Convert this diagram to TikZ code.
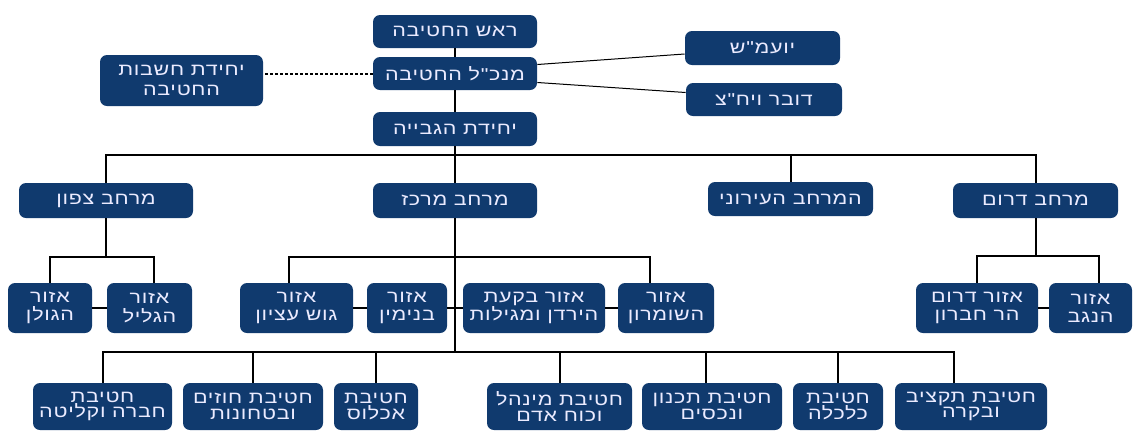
\documentclass[tikz,border=0pt]{standalone}
\usepackage{fontspec}
\newfontfamily\hebfont[Script=Hebrew,FakeStretch=1.25,LetterSpace=4]{Liberation Sans}
\TeXXeTstate=1
\definecolor{orgblue}{RGB}{16,58,110}
\newcommand{\hebtxt}[1]{\beginR #1\endR}
\tikzset{
  orgbox/.style={fill=orgblue, text=white!92!blue, rounded corners=3.5pt, inner sep=0pt, align=center, font=\hebfont\fontsize{8.6}{9.2}\selectfont},
  divbox/.style={orgbox, font=\hebfont\fontsize{8.6}{7.8}\selectfont},
  conn/.style={line width=1pt},
  thinconn/.style={line width=0.5pt}
}

\begin{document}
\begin{tikzpicture}[x=0.5pt, y=-0.5pt]
  \useasboundingbox (0,0) rectangle (1136,430);

  \node[orgbox, minimum width=82pt, minimum height=16.5pt] (1) at (455,31.5) {\hebtxt{ראש החטיבה}};
  \node[orgbox, minimum width=82pt, minimum height=16.5pt] (2) at (455,73.5) {\hebtxt{מנכ"ל החטיבה}};
  \node[orgbox, minimum width=82pt, minimum height=17pt] (3) at (455,129) {\hebtxt{יחידת הגבייה}};
  \node[orgbox, minimum width=81.5pt, minimum height=25.5pt] (4) at (181.5,80.5) {\hebtxt{יחידת חשבות}\\[1pt]\hebtxt{החטיבה}};
  \node[orgbox, minimum width=77.5pt, minimum height=17pt] (5) at (762.5,48) {\hebtxt{יועמ"ש}};
  \node[orgbox, minimum width=78pt, minimum height=16.5pt] (6) at (764,99.5) {\hebtxt{דובר ויח"צ}};

  \node[orgbox, minimum width=87pt, minimum height=17.5pt] (7) at (106,200.5) {\hebtxt{מרחב צפון}};
  \node[orgbox, minimum width=82pt, minimum height=17.5pt] (8) at (455,200.5) {\hebtxt{מרחב מרכז}};
  \node[orgbox, minimum width=82.5pt, minimum height=17pt] (9) at (790.5,199) {\hebtxt{המרחב העירוני}};
  \node[orgbox, minimum width=82.5pt, minimum height=17.5pt] (10) at (1035.5,200.5) {\hebtxt{מרחב דרום}};

  \node[orgbox, minimum width=42pt, minimum height=25pt] (11) at (50,308) {\hebtxt{אזור}\\\hebtxt{הגולן}};
  \node[orgbox, minimum width=42.5pt, minimum height=25pt] (12) at (149.5,308) {\hebtxt{אזור}\\\hebtxt{הגליל}};
  \node[orgbox, minimum width=56.5pt, minimum height=25pt] (13) at (296.5,308) {\hebtxt{אזור}\\\hebtxt{גוש עציון}};
  \node[orgbox, minimum width=40pt, minimum height=25pt] (14) at (407,308) {\hebtxt{אזור}\\\hebtxt{בנימין}};
  \node[orgbox, minimum width=71pt, minimum height=25pt] (15) at (534,308) {\hebtxt{אזור בקעת}\\\hebtxt{הירדן ומגילות}};
  \node[orgbox, minimum width=48pt, minimum height=25pt] (16) at (666,308) {\hebtxt{אזור}\\\hebtxt{השומרון}};
  \node[orgbox, minimum width=61pt, minimum height=25pt] (17) at (977,308) {\hebtxt{אזור דרום}\\\hebtxt{הר חברון}};
  \node[orgbox, minimum width=41.5pt, minimum height=25pt] (18) at (1090.5,308) {\hebtxt{אזור}\\\hebtxt{הנגב}};

  \node[divbox, minimum width=69.5pt, minimum height=23.5pt] (19) at (102.5,406.5) {\hebtxt{חטיבת}\\\hebtxt{חברה וקליטה}};
  \node[divbox, minimum width=70pt, minimum height=23.5pt] (20) at (253,406.5) {\hebtxt{חטיבת חוזים}\\\hebtxt{ובטחונות}};
  \node[divbox, minimum width=42pt, minimum height=23.5pt] (21) at (376,406.5) {\hebtxt{חטיבת}\\\hebtxt{אכלוס}};
  \node[divbox, minimum width=72.5pt, minimum height=23.5pt] (22) at (559.5,406.5) {\hebtxt{חטיבת מינהל}\\\hebtxt{וכוח אדם}};
  \node[divbox, minimum width=70pt, minimum height=23.5pt] (23) at (712,406.5) {\hebtxt{חטיבת תכנון}\\\hebtxt{ונכסים}};
  \node[divbox, minimum width=45pt, minimum height=23.5pt] (24) at (838,406.5) {\hebtxt{חטיבת}\\\hebtxt{כלכלה}};
  \node[divbox, minimum width=76pt, minimum height=23.5pt] (25) at (971,406.5) {\hebtxt{חטיבת תקציב}\\\hebtxt{ובקרה}};

  % bus points
  \coordinate (a) at (455,155);
  \coordinate (b) at (106,257);
  \coordinate (c) at (455,257);
  \coordinate (d) at (1035.5,256);
  \coordinate (e) at (455,352);

  % top
  \draw[conn] (1) -- (2);
  \draw[conn] (2) -- (3);
  \draw[conn] (3) -- (8);
  \draw[conn, dash pattern=on 1.5pt off 1pt] (2.west) -- (2.west -| 4.east);
  \draw[thinconn] ([yshift=4.5pt]2.east) -- ([yshift=-3pt]5.west);
  \draw[thinconn] ([yshift=-4.5pt]2.east) -- ([yshift=3.5pt]6.west);

  % regions
  \draw[conn] (7.north) |- (a) -| (10.north);
  \draw[conn] (9.north) -- (9.north |- a);

  % districts
  \draw[conn] (7) -- (b);
  \draw[conn] (11.north) |- (b) -| ([xshift=2pt]12.north);
  \draw[conn] (8) -- (e);
  \draw[conn] ([xshift=-4pt]13.north) |- (c) -| ([xshift=-8pt]16.north);
  \draw[conn] (10) -- (d);
  \draw[conn] (17.north) |- (d) -| ([xshift=4pt]18.north);
  \draw[conn] (11) -- (12);
  \draw[conn] (13) -- (14);
  \draw[conn] (14) -- (15);
  \draw[conn] (15) -- (16);
  \draw[conn] (17) -- (18);

  % divisions
  \draw[conn] (19.north) |- (e) -| ([xshift=-8.5pt]25.north);
  \draw[conn] (20.north) -- (20.north |- e);
  \draw[conn] (21.north) -- (21.north |- e);
  \draw[conn] (22.north) -- (22.north |- e);
  \draw[conn] ([xshift=-3pt]23.north) -- ([xshift=-3pt]23.north |- e);
  \draw[conn] (24.north) -- (24.north |- e);
\end{tikzpicture}
\end{document}
